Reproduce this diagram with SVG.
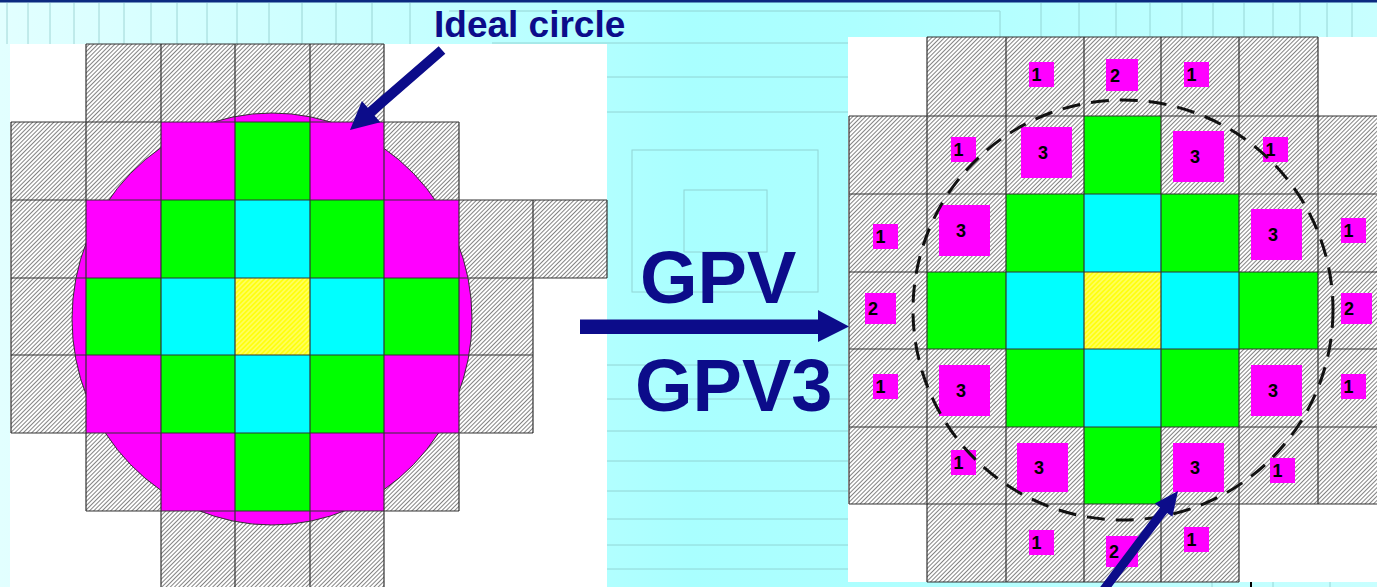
<svg xmlns="http://www.w3.org/2000/svg" width="1377" height="587" viewBox="0 0 1377 587">
<defs>
<linearGradient id="bgGrad" x1="0" y1="0" x2="1" y2="0">
<stop offset="0" stop-color="#e2ffff"/>
<stop offset="0.3" stop-color="#c6ffff"/>
<stop offset="0.5" stop-color="#a9ffff"/>
<stop offset="0.62" stop-color="#adffff"/>
<stop offset="1" stop-color="#c8ffff"/>
</linearGradient>
<pattern id="hatch" patternUnits="userSpaceOnUse" width="3" height="3" patternTransform="rotate(45)">
<rect width="3" height="3" fill="#ffffff"/>
<line x1="1.5" y1="-1" x2="1.5" y2="4" stroke="#5a5a5a" stroke-width="0.75"/>
</pattern>
<pattern id="yhatch" patternUnits="userSpaceOnUse" width="3.4" height="3.4" patternTransform="rotate(45)">
<rect width="3.4" height="3.4" fill="#ffff10"/>
<line x1="1.7" y1="-1" x2="1.7" y2="5" stroke="#ffff90" stroke-width="1"/>
</pattern>
</defs>
<style>
.bgl{stroke:#86c4c4;stroke-width:1;opacity:0.7;fill:none}
.h{fill:url(#hatch)}
.y{fill:url(#yhatch)}
.m{fill:#ff00ff}
.g{fill:#00ff00}
.c{fill:#00ffff}
.o{fill:none;stroke:#333;stroke-width:1.2}
.sq{fill:#ff00ff}
.n{font-family:"Liberation Sans",Arial,sans-serif;font-weight:bold;font-size:18px;fill:#000;text-anchor:middle}
.lbl{font-family:"Liberation Sans",Arial,sans-serif;font-weight:bold;fill:#0c0c8a}
.arr{fill:#0c0c8a}
</style>

<g id="background">
<rect x="0" y="0" width="1377" height="587" fill="url(#bgGrad)"/>
<rect x="0" y="0" width="1377" height="2.5" fill="#0b2a80"/>
<g class="bgl">
<path d="M7 3V44M28 3V44M50 3V44M74 3V44M99 3V44M124 3V44M151 3V44M177 3V44M207 3V44M237 3V44M269 3V44M302 3V44M336 3V44M372 3V44M410 3V44"/>
<path d="M1041 3V37M1079 3V37M1116 3V37M1150 3V37M1182 3V37M1213 3V37M1244 3V37M1273 3V37M1300 3V37M1327 3V37M1352 3V37"/>
<path d="M449 11H1000V37"/>
<path d="M492 43H849M607 77H849M607 112H849"/>
<path d="M607 365H849M607 399H849M607 431H849M607 461H849M607 491H849M607 519H849M607 545H849M607 569H849"/>
<rect x="632" y="150" width="186" height="142"/>
<rect x="684" y="190" width="83" height="62"/>
<path d="M1212 582V587M1273 582V587M1330 582V587"/>
</g>
<line x1="1251" y1="582" x2="1251" y2="587" stroke="#000" stroke-width="2"/>
</g>

<g id="left-grid">
<rect x="10" y="44" width="597" height="543" fill="#fff"/>
<g id="left-hatched">
<rect class="h" x="86" y="44" width="75" height="78"/><rect class="h" x="161" y="44" width="74" height="78"/><rect class="h" x="235" y="44" width="75" height="78"/><rect class="h" x="310" y="44" width="74" height="78"/>
<rect class="h" x="11" y="122" width="75" height="78"/><rect class="h" x="86" y="122" width="75" height="78"/><rect class="h" x="384" y="122" width="75" height="78"/>
<rect class="h" x="11" y="200" width="75" height="78"/><rect class="h" x="459" y="200" width="74" height="78"/><rect class="h" x="533" y="200" width="74" height="78"/>
<rect class="h" x="11" y="278" width="75" height="77"/><rect class="h" x="459" y="278" width="74" height="77"/>
<rect class="h" x="11" y="355" width="75" height="78"/><rect class="h" x="459" y="355" width="74" height="78"/>
<rect class="h" x="86" y="433" width="75" height="78"/><rect class="h" x="384" y="433" width="75" height="78"/>
<rect class="h" x="161" y="511" width="74" height="80"/><rect class="h" x="235" y="511" width="75" height="80"/><rect class="h" x="310" y="511" width="74" height="80"/>
</g>
<ellipse id="ideal-circle" cx="272" cy="319" rx="200" ry="206" fill="#ff00ff" stroke="#333" stroke-width="1"/>
<g id="left-colored">
<rect class="m" x="161" y="122" width="74" height="78"/><rect class="g" x="235" y="122" width="75" height="78"/><rect class="m" x="310" y="122" width="74" height="78"/>
<rect class="m" x="86" y="200" width="75" height="78"/><rect class="g" x="161" y="200" width="74" height="78"/><rect class="c" x="235" y="200" width="75" height="78"/><rect class="g" x="310" y="200" width="74" height="78"/><rect class="m" x="384" y="200" width="75" height="78"/>
<rect class="g" x="86" y="278" width="75" height="77"/><rect class="c" x="161" y="278" width="74" height="77"/><rect class="y" x="235" y="278" width="75" height="77"/><rect class="c" x="310" y="278" width="74" height="77"/><rect class="g" x="384" y="278" width="75" height="77"/>
<rect class="m" x="86" y="355" width="75" height="78"/><rect class="g" x="161" y="355" width="74" height="78"/><rect class="c" x="235" y="355" width="75" height="78"/><rect class="g" x="310" y="355" width="74" height="78"/><rect class="m" x="384" y="355" width="75" height="78"/>
<rect class="m" x="161" y="433" width="74" height="78"/><rect class="g" x="235" y="433" width="75" height="78"/><rect class="m" x="310" y="433" width="74" height="78"/>
</g>
<g id="left-outlines" class="o">
<path d="M86 44H384M11 122H459M11 200H607M11 278H607M11 355H533M11 433H533M86 511H459"/>
<path d="M86 44V122M161 44V122M235 44V122M310 44V122M384 44V122"/>
<path d="M11 122V433M86 122V511M161 122V591M235 122V591M310 122V591M384 122V591M459 122V511M533 200V433M607 200V278"/>
</g>
</g>

<g id="right-grid">
<rect x="848" y="37" width="529" height="545" fill="#fff"/>
<g id="right-cells">
<rect class="h" x="927" y="37" width="79" height="79"/><rect class="h" x="1006" y="37" width="78" height="79"/><rect class="h" x="1084" y="37" width="77" height="79"/><rect class="h" x="1161" y="37" width="78" height="79"/><rect class="h" x="1239" y="37" width="79" height="79"/>
<rect class="h" x="849" y="116" width="78" height="78"/><rect class="h" x="927" y="116" width="79" height="78"/><rect class="h" x="1006" y="116" width="78" height="78"/><rect class="g" x="1084" y="116" width="77" height="78"/><rect class="h" x="1161" y="116" width="78" height="78"/><rect class="h" x="1239" y="116" width="79" height="78"/><rect class="h" x="1318" y="116" width="78" height="78"/>
<rect class="h" x="849" y="194" width="78" height="78"/><rect class="h" x="927" y="194" width="79" height="78"/><rect class="g" x="1006" y="194" width="78" height="78"/><rect class="c" x="1084" y="194" width="77" height="78"/><rect class="g" x="1161" y="194" width="78" height="78"/><rect class="h" x="1239" y="194" width="79" height="78"/><rect class="h" x="1318" y="194" width="78" height="78"/>
<rect class="h" x="849" y="272" width="78" height="77"/><rect class="g" x="927" y="272" width="79" height="77"/><rect class="c" x="1006" y="272" width="78" height="77"/><rect class="y" x="1084" y="272" width="77" height="77"/><rect class="c" x="1161" y="272" width="78" height="77"/><rect class="g" x="1239" y="272" width="79" height="77"/><rect class="h" x="1318" y="272" width="78" height="77"/>
<rect class="h" x="849" y="349" width="78" height="78"/><rect class="h" x="927" y="349" width="79" height="78"/><rect class="g" x="1006" y="349" width="78" height="78"/><rect class="c" x="1084" y="349" width="77" height="78"/><rect class="g" x="1161" y="349" width="78" height="78"/><rect class="h" x="1239" y="349" width="79" height="78"/><rect class="h" x="1318" y="349" width="78" height="78"/>
<rect class="h" x="849" y="427" width="78" height="77"/><rect class="h" x="927" y="427" width="79" height="77"/><rect class="h" x="1006" y="427" width="78" height="77"/><rect class="g" x="1084" y="427" width="77" height="77"/><rect class="h" x="1161" y="427" width="78" height="77"/><rect class="h" x="1239" y="427" width="79" height="77"/><rect class="h" x="1318" y="427" width="78" height="77"/>
<rect class="h" x="927" y="504" width="79" height="78"/><rect class="h" x="1006" y="504" width="78" height="78"/><rect class="h" x="1084" y="504" width="77" height="78"/><rect class="h" x="1161" y="504" width="78" height="78"/>
</g>
<g id="right-outlines" class="o">
<path d="M927 37H1318M849 116H1396M849 194H1396M849 272H1396M849 349H1396M849 427H1396M849 504H1396M927 582H1239"/>
<path d="M927 37V582M1006 37V582M1084 37V582M1161 37V582M1239 37V582M1318 37V504M849 116V504"/>
</g>
<g id="gpv-squares">
<rect class="sq" x="1029" y="62" width="25" height="25"/><text class="n" x="1036.5" y="81">1</text>
<rect class="sq" x="1106" y="59" width="32" height="32"/><text class="n" x="1115" y="81.5">2</text>
<rect class="sq" x="1184" y="62" width="25" height="25"/><text class="n" x="1191.5" y="81">1</text>
<rect class="sq" x="951" y="137" width="25" height="25"/><text class="n" x="958.5" y="156">1</text>
<rect class="sq" x="1021" y="127" width="51" height="51"/><text class="n" x="1043" y="159">3</text>
<rect class="sq" x="1173" y="131" width="51" height="51"/><text class="n" x="1195" y="163">3</text>
<rect class="sq" x="1263" y="137" width="25" height="25"/><text class="n" x="1270.5" y="156">1</text>
<rect class="sq" x="873" y="224" width="25" height="25"/><text class="n" x="880.5" y="243">1</text>
<rect class="sq" x="939" y="205" width="51" height="51"/><text class="n" x="961" y="237">3</text>
<rect class="sq" x="1251" y="209" width="51" height="51"/><text class="n" x="1273" y="241">3</text>
<rect class="sq" x="1341" y="218" width="25" height="25"/><text class="n" x="1348.5" y="237">1</text>
<rect class="sq" x="865" y="293" width="31" height="31"/><text class="n" x="873" y="315">2</text>
<rect class="sq" x="1341" y="293" width="31" height="31"/><text class="n" x="1349" y="315">2</text>
<rect class="sq" x="873" y="374" width="25" height="25"/><text class="n" x="880.5" y="393">1</text>
<rect class="sq" x="939" y="365" width="51" height="51"/><text class="n" x="961" y="397">3</text>
<rect class="sq" x="1251" y="365" width="51" height="51"/><text class="n" x="1273" y="397">3</text>
<rect class="sq" x="1341" y="374" width="25" height="25"/><text class="n" x="1348.5" y="393">1</text>
<rect class="sq" x="951" y="450" width="25" height="25"/><text class="n" x="958.5" y="469">1</text>
<rect class="sq" x="1017" y="443" width="51" height="49"/><text class="n" x="1039" y="474">3</text>
<rect class="sq" x="1173" y="443" width="51" height="49"/><text class="n" x="1195" y="474">3</text>
<rect class="sq" x="1270" y="458" width="25" height="25"/><text class="n" x="1277.5" y="477">1</text>
<rect class="sq" x="1029" y="530" width="25" height="25"/><text class="n" x="1036.5" y="549">1</text>
<rect class="sq" x="1106" y="536" width="32" height="31"/><text class="n" x="1114" y="558">2</text>
<rect class="sq" x="1184" y="527" width="25" height="25"/><text class="n" x="1191.5" y="546">1</text>
</g>
<circle id="dashed-circle" cx="1123" cy="310" r="210" fill="none" stroke="#111" stroke-width="3" stroke-dasharray="18 11"/>
</g>

<g id="label-ideal">
<text class="lbl" x="434" y="37" font-size="37">Ideal circle</text>
</g>
<g id="label-gpv">
<text class="lbl" x="640" y="303" font-size="74">GPV</text>
<text class="lbl" x="635" y="411" font-size="74">GPV3</text>
</g>

<g id="connectors">
<polygon class="arr" points="445.3,53.8 374.4,115.4 380.3,122.2 350,130 361.9,101 367.8,107.8 438.7,46.2"/>
<polygon class="arr" points="580,319.5 818,319.5 818,310 849,326.5 818,342 818,334 580,334"/>
<polygon class="arr" points="1097.5,605.6 1167.2,512.9 1172.4,516.8 1178,491 1154.8,503.6 1160,507.5 1090.3,600.2"/>
</g>
</svg>
